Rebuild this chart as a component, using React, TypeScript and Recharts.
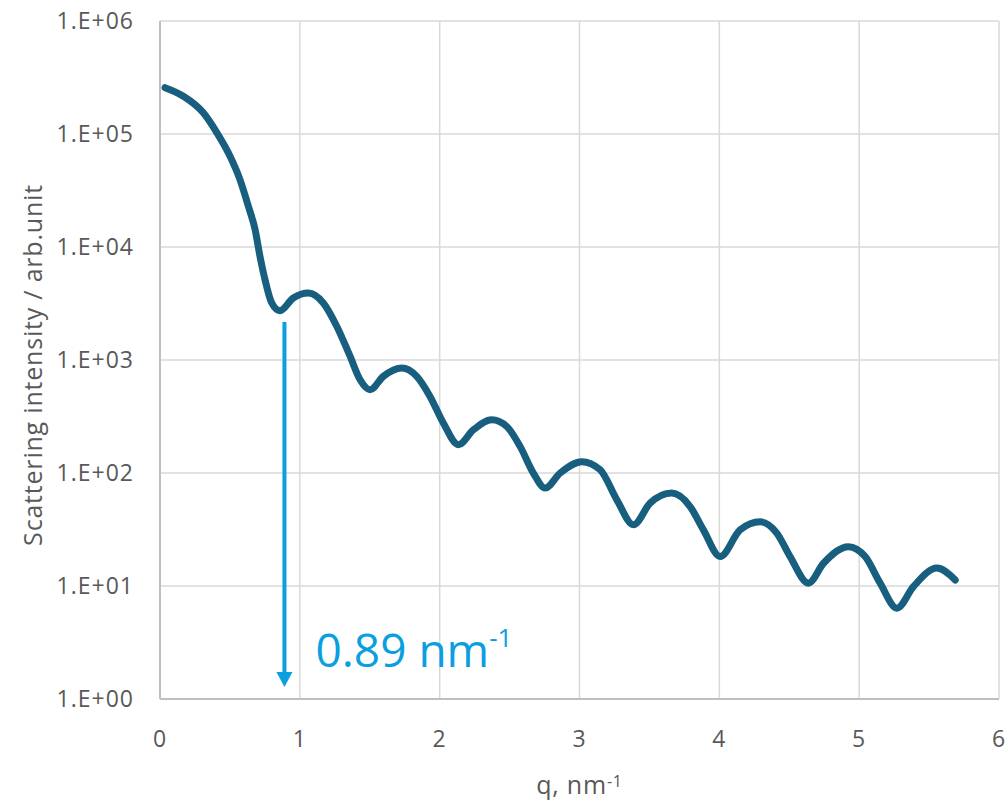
import React from "react";
import { LineChart, Line, XAxis, YAxis, CartesianGrid, ReferenceLine, Label } from "recharts";

// SAXS profile, read as (q, intensity) pairs
const Q_VALUES = [
  0.036, 0.167, 0.31, 0.406, 0.501, 0.572, 0.632, 0.68, 0.715, 0.751, 0.799, 0.858,
  0.953, 1.061, 1.168, 1.264, 1.359, 1.431, 1.502, 1.597, 1.729, 1.836, 1.931, 2.026,
  2.134, 2.241, 2.373, 2.48, 2.575, 2.67, 2.754, 2.861, 3.016, 3.147, 3.267, 3.386,
  3.505, 3.66, 3.791, 3.886, 4.006, 4.149, 4.292, 4.411, 4.506, 4.637, 4.745, 4.923,
  5.043, 5.15, 5.27, 5.388, 5.556, 5.687,
];
const INTENSITY = [
  257000, 216000, 154000, 103000, 63600, 39500, 22900, 14300, 8270, 5140, 3200, 2730,
  3540, 3920, 3200, 1990, 1080, 669, 546, 716, 849, 716, 476, 277,
  178, 241, 296, 258, 172, 99.8, 73.5, 99.8, 126, 107, 57.9, 34.8,
  54.1, 66.4, 50.5, 31.4, 18.2, 31.4, 37.0, 29.4, 18.2, 10.6, 15.9, 22.3,
  18.2, 10.6, 6.36, 9.88, 14.4, 11.3,
];

const X_TICKS = [0, 1, 2, 3, 4, 5, 6];
const Y_TICKS = [1, 10, 100, 1000, 10000, 100000, 1000000];

// first minimum marker
const MIN_Q = 0.89;
const ARROW_TOP = 2170;
const ARROW_TIP = 1.28;

const data = Q_VALUES.map((q, i) => ({ q, intensity: INTENSITY[i] }));

const FONT = "'Segoe UI', 'Open Sans', sans-serif";
const TEXT = "#595959";
const ARROW = "#0a9fde";

const fmtExp = (v: number) => {
  const e = Math.round(Math.log10(v));
  return `1.E+${String(e).padStart(2, "0")}`;
};

const ArrowShape = (props: any) => {
  const { x1, y1, x2, y2 } = props;
  const head = 15;
  return (
    <g>
      <line x1={x1} y1={y1} x2={x2} y2={y2 - head + 2} stroke={ARROW} strokeWidth={4} />
      <polygon points={`${x2 - 8},${y2 - head} ${x2 + 8},${y2 - head} ${x2},${y2}`} fill={ARROW} />
      <text x={x2 + 31} y={y2 - 20} fill={ARROW} fontFamily={FONT} fontSize={46}>
        {MIN_Q} nm<tspan dy={-20} fontSize={26}>-1</tspan>
      </text>
    </g>
  );
};

const tickStyle = { fill: TEXT, fontSize: 23, fontFamily: FONT, letterSpacing: 1 };

export default function App() {
  return (
    <div style={{ position: "absolute", left: 0, top: 0, width: 1008, height: 802, background: "#fff" }}>
      <LineChart width={1008} height={802} data={data} margin={{ top: 21, right: 9, left: 0, bottom: 0 }}>
        <CartesianGrid stroke="#d9d9d9" strokeWidth={1.5} />
        <XAxis
          dataKey="q"
          type="number"
          domain={[0, 6]}
          ticks={X_TICKS}
          height={103}
          tickSize={0}
          tickMargin={32}
          axisLine={{ stroke: "#bfbfbf", strokeWidth: 2 }}
          tick={tickStyle}
        >
          <Label
            content={({ viewBox }: any) => (
              <text x={viewBox.x + viewBox.width / 2} y={viewBox.y + 95} textAnchor="middle" fill={TEXT} fontFamily={FONT} fontSize={25} letterSpacing={0.8}>
                q, nm<tspan dy={-7} fontSize={16}>-1</tspan>
              </text>
            )}
          />
        </XAxis>
        <YAxis
          type="number"
          scale="log"
          domain={[1, 1000000]}
          ticks={Y_TICKS}
          allowDataOverflow
          width={160}
          tickSize={0}
          tickMargin={26}
          tickFormatter={fmtExp}
          axisLine={{ stroke: "#bfbfbf", strokeWidth: 2 }}
          tick={tickStyle}
        >
          <Label
            content={({ viewBox }: any) => {
              const cx = 32;
              const cy = viewBox.y + viewBox.height / 2 + 5;
              return (
                <text x={cx} y={cy} transform={`rotate(-90, ${cx}, ${cy})`} textAnchor="middle" dominantBaseline="central" fill={TEXT} fontFamily={FONT} fontSize={25} letterSpacing={0.8}>
                  Scattering intensity / arb.unit
                </text>
              );
            }}
          />
        </YAxis>
        <Line
          type="monotone"
          dataKey="intensity"
          stroke="#175e7f"
          strokeWidth={7}
          strokeLinecap="round"
          strokeLinejoin="round"
          dot={false}
          isAnimationActive={false}
        />
        <ReferenceLine
          segment={[{ x: MIN_Q, y: ARROW_TOP }, { x: MIN_Q, y: ARROW_TIP }]}
          shape={ArrowShape}
        />
      </LineChart>
    </div>
  );
}
